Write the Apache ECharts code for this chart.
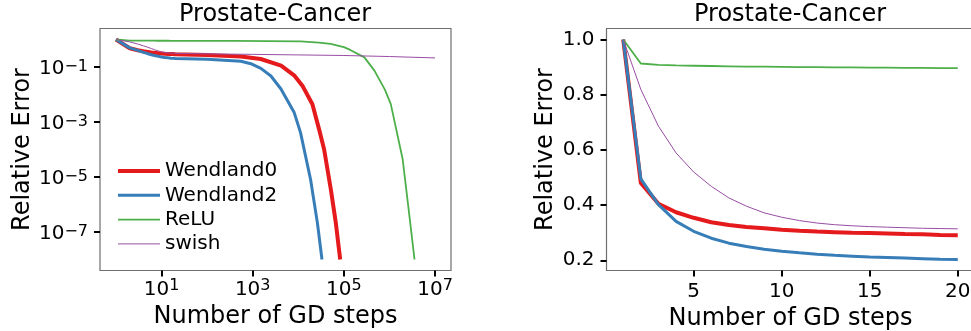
<!DOCTYPE html>
<html>
<head>
<meta charset="utf-8">
<script src="https://cdn.jsdelivr.net/npm/echarts@6/dist/echarts.min.js"></script>
<style>
html,body{margin:0;padding:0;background:#fff;}
#chart{width:971px;height:331px;}
</style>
</head>
<body>
<div id="chart"></div>
<script>
// ---------- data ----------
const seriesNames = ['Wendland0', 'Wendland2', 'ReLU', 'swish'];
const seriesColors = ['#e41a1c', '#377eb8', '#4daf4a', '#984ea3'];
const seriesWidths = [4, 3, 1.8, 1];

// first 20 GD steps (right panel, also beginning of left panel)
const shortSteps = [1,2,3,4,5,6,7,8,9,10,11,12,13,14,15,16,17,18,19,20];
const wendland0Short = [1.0,0.48,0.405,0.374,0.354,0.338,0.328,0.321,0.316,0.311,0.307,0.304,0.302,0.300,0.299,0.297,0.295,0.294,0.292,0.291];
const wendland2Short = [1.0,0.495,0.402,0.341,0.305,0.280,0.262,0.250,0.240,0.233,0.227,0.222,0.218,0.215,0.212,0.210,0.208,0.206,0.204,0.203];
const reluShort      = [1.0,0.913,0.908,0.906,0.905,0.904,0.903,0.902,0.902,0.901,0.900,0.900,0.899,0.899,0.898,0.898,0.897,0.897,0.896,0.896];
const swishShort     = [1.0,0.819,0.686,0.589,0.520,0.468,0.426,0.396,0.372,0.356,0.344,0.335,0.329,0.325,0.322,0.320,0.318,0.316,0.315,0.314];

// long runs (left panel, after step 20)
const wendland0TailSteps = [100, 550, 1500, 4200, 8100, 12300, 20400, 28600, 36900, 51800, 66700, 83000];
const wendland0Tail      = [0.275, 0.24, 0.195, 0.112, 0.05, 0.021, 0.0044, 5.4e-4, 1.0e-4, 3.5e-6, 2.1e-7, 1.0e-8];
const wendland2TailSteps = [100, 550, 910, 1510, 2510, 4170, 8130, 11200, 18600, 26300, 33100];
const wendland2Tail      = [0.193, 0.162, 0.132, 0.089, 0.047, 0.0158, 0.0022, 4.1e-4, 8.1e-6, 2.1e-7, 1.0e-8];
const reluTailSteps = [390, 11200, 28200, 51300, 100000, 138000, 282000, 468000, 794000, 1070000, 1950000, 2690000, 3550000];
const reluTail      = [0.89, 0.85, 0.776, 0.69, 0.525, 0.417, 0.224, 0.074, 0.0151, 0.00447, 4.4e-5, 5.0e-7, 1.0e-8];
const swishTailSteps = [100, 1000, 10000, 100000, 1000000, 10000000];
const swishTail      = [0.30, 0.288, 0.275, 0.262, 0.24, 0.214];

// tick values
const logXTicks = [10, 1000, 100000, 10000000];
const logYTicks = [1e-7, 1e-5, 1e-3, 1e-1];
const linXTicks = [5, 10, 15, 20];
const linYTicks = [0.2, 0.4, 0.6, 0.8, 1.0];

// ---------- build ----------
const FONT = "'DejaVu Sans', sans-serif";
const shortData = [wendland0Short, wendland2Short, reluShort, swishShort];
const tailSteps = [wendland0TailSteps, wendland2TailSteps, reluTailSteps, swishTailSteps];
const tailData = [wendland0Tail, wendland2Tail, reluTail, swishTail];

function pairs(xs, ys) { return xs.map((x, i) => [x, ys[i]]); }

function powLabel(v) {
  const e = Math.round(Math.log10(v));
  const s = e < 0 ? '\u2212' + (-e) : String(e);
  return '{b|10}{s|' + s + '}';
}

const tickStyle = { show: true, inside: false, length: 6, lineStyle: { color: '#000', width: 2 } };
const frame = { show: true, borderColor: '#6e6e6e', borderWidth: 1.2, backgroundColor: 'transparent',
                containLabel: false, outerBoundsMode: 'none' };

const series = [];
for (let i = 0; i < 4; i++) {
  series.push({
    name: seriesNames[i], type: 'line', xAxisIndex: 0, yAxisIndex: 0,
    data: pairs(shortSteps, shortData[i]).concat(pairs(tailSteps[i], tailData[i])),
    symbol: 'none', showSymbol: false, smooth: false,
    lineStyle: { color: seriesColors[i], width: seriesWidths[i] },
    itemStyle: { color: seriesColors[i] }, z: 2 + i
  });
}
for (let i = 0; i < 4; i++) {
  series.push({
    name: seriesNames[i], type: 'line', xAxisIndex: 1, yAxisIndex: 1,
    data: pairs(shortSteps, shortData[i]),
    symbol: 'none', showSymbol: false, smooth: false,
    lineStyle: { color: seriesColors[i], width: seriesWidths[i] },
    itemStyle: { color: seriesColors[i] }, z: 2 + i
  });
}

const legendData = seriesNames.map((n, i) => ({
  name: n, icon: 'line',
  itemStyle: { color: seriesColors[i], borderColor: seriesColors[i], borderWidth: seriesWidths[i] }
}));

const labelText = { fontFamily: FONT, fontSize: 20, color: '#000' };

const option = {
  animation: false,
  backgroundColor: '#fff',
  textStyle: { fontFamily: FONT },
  title: [
    { text: 'Prostate-Cancer', left: 179, top: 3, padding: 0,
      textStyle: { fontFamily: FONT, fontSize: 24, fontWeight: 'normal', color: '#000' } },
    { text: 'Prostate-Cancer', left: 694, top: 3, padding: 0,
      textStyle: { fontFamily: FONT, fontSize: 24, fontWeight: 'normal', color: '#000' } }
  ],
  legend: {
    data: legendData, orient: 'vertical', left: 116, top: 161, padding: 0,
    icon: 'line', itemWidth: 42, itemHeight: 14, itemGap: 4.3,
    textStyle: { fontFamily: FONT, fontSize: 20, color: '#000', lineHeight: 20 }
  },
  grid: [
    Object.assign({ left: 100, top: 28.5, width: 351, height: 242 }, frame),
    Object.assign({ left: 606.5, top: 28.5, width: 368, height: 242 }, frame)
  ],
  xAxis: [
    {
      type: 'log', gridIndex: 0, logBase: 10,
      min: Math.pow(10, -0.35), max: Math.pow(10, 7.35),
      axisLine: { show: false },
      axisTick: Object.assign({ customValues: logXTicks }, tickStyle),
      minorTick: { show: false }, splitLine: { show: false },
      axisLabel: {
        customValues: logXTicks, margin: 7, formatter: powLabel,
        fontFamily: FONT, fontSize: 20, color: '#000',
        rich: {
          b: { fontFamily: FONT, fontSize: 20, lineHeight: 20, color: '#000', padding: [4, 0, 0, 0] },
          s: { fontFamily: FONT, fontSize: 16, lineHeight: 16, color: '#000', verticalAlign: 'top' }
        }
      },
      name: 'Number of GD steps', nameLocation: 'middle', nameGap: 34,
      nameTextStyle: { fontFamily: FONT, fontSize: 24, color: '#000' }
    },
    {
      type: 'value', gridIndex: 1, min: 0.05, max: 20.95,
      axisLine: { show: false },
      axisTick: Object.assign({ customValues: linXTicks }, tickStyle),
      splitLine: { show: false },
      axisLabel: Object.assign({ customValues: linXTicks, margin: 11 }, labelText),
      name: 'Number of GD steps', nameLocation: 'middle', nameGap: 34,
      nameTextStyle: { fontFamily: FONT, fontSize: 24, color: '#000' }
    }
  ],
  yAxis: [
    {
      type: 'log', gridIndex: 0, logBase: 10,
      min: Math.pow(10, -8.4), max: Math.pow(10, 0.4),
      axisLine: { show: false },
      axisTick: Object.assign({ customValues: logYTicks }, tickStyle),
      minorTick: { show: false }, splitLine: { show: false },
      axisLabel: {
        customValues: logYTicks, margin: 12, formatter: powLabel,
        fontFamily: FONT, fontSize: 20, color: '#000', padding: [4, 0, 0, 0],
        rich: {
          b: { fontFamily: FONT, fontSize: 20, lineHeight: 20, color: '#000', padding: [4, 0, 4, 0] },
          s: { fontFamily: FONT, fontSize: 16, lineHeight: 16, color: '#000', verticalAlign: 'top' }
        }
      },
      name: 'Relative Error', nameLocation: 'middle', nameGap: 65,
      nameTextStyle: { fontFamily: FONT, fontSize: 24, color: '#000' }
    },
    {
      type: 'value', gridIndex: 1, min: 0.163, max: 1.0399,
      axisLine: { show: false },
      axisTick: Object.assign({ customValues: linYTicks }, tickStyle),
      splitLine: { show: false },
      axisLabel: Object.assign({ customValues: linYTicks, margin: 12, formatter: v => v.toFixed(1) }, labelText),
      name: 'Relative Error', nameLocation: 'middle', nameGap: 49,
      nameTextStyle: { fontFamily: FONT, fontSize: 24, color: '#000' }
    }
  ],
  series: series
};

const chart = echarts.init(document.getElementById('chart'), null, { renderer: 'canvas' });
chart.setOption(option);
</script>
</body>
</html>
